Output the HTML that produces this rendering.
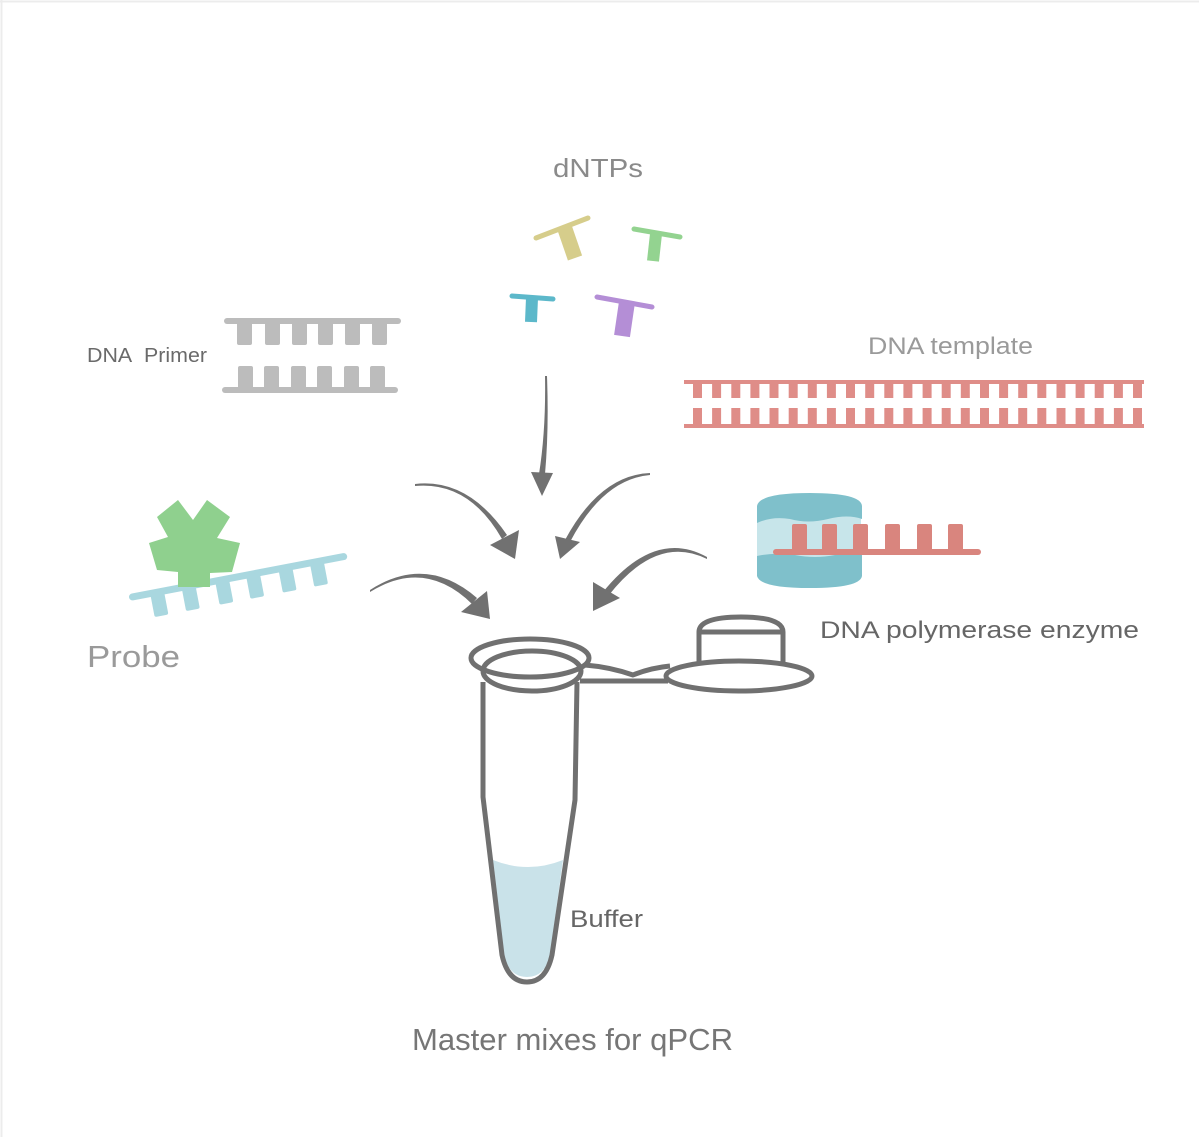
<!DOCTYPE html>
<html>
<head>
<meta charset="utf-8">
<style>
  html,body{margin:0;padding:0;background:#fff;}
  svg{display:block;}
  text{font-family:"Liberation Sans",Arial,sans-serif;}
</style>
</head>
<body>
<svg width="1199" height="1137" viewBox="0 0 1199 1137" xmlns="http://www.w3.org/2000/svg">
  <rect x="0" y="0" width="1199" height="1137" fill="#fff"/>
  <line x1="1.5" y1="0" x2="1.5" y2="1137" stroke="#ececec" stroke-width="2"/>
  <line x1="0" y1="1.5" x2="1199" y2="1.5" stroke="#ececec" stroke-width="2"/>

  <!-- dNTPs label -->
  <text x="553" y="177" font-size="26" fill="#8a8a8a" textLength="90" lengthAdjust="spacingAndGlyphs">dNTPs</text>

  <!-- dNTP T shapes -->
  <g stroke-linecap="round">
    <line x1="536" y1="238" x2="588" y2="218" stroke="#d6cd8b" stroke-width="5"/>
    <line x1="565" y1="229" x2="575" y2="258" stroke="#d6cd8b" stroke-width="15" stroke-linecap="butt"/>
    <line x1="634" y1="229" x2="680" y2="237" stroke="#93d390" stroke-width="5"/>
    <line x1="656" y1="234" x2="653" y2="261" stroke="#93d390" stroke-width="12" stroke-linecap="butt"/>
    <line x1="512" y1="296" x2="553" y2="299" stroke="#5cb8ca" stroke-width="5"/>
    <line x1="532" y1="298" x2="531" y2="322" stroke="#5cb8ca" stroke-width="12" stroke-linecap="butt"/>
    <line x1="597" y1="297" x2="652" y2="307" stroke="#b48ed6" stroke-width="5"/>
    <line x1="627" y1="302" x2="622" y2="336" stroke="#b48ed6" stroke-width="16" stroke-linecap="butt"/>
  </g>

  <!-- DNA Primer -->
  <text x="87" y="362" font-size="20" fill="#6a6a6a" textLength="120" lengthAdjust="spacingAndGlyphs">DNA&#160; Primer</text>
  <g fill="#bcbcbc">
    <rect x="224" y="318" width="177" height="6" rx="3"/>
    <rect x="237" y="320" width="15" height="25" rx="2"/>
    <rect x="265" y="320" width="15" height="25" rx="2"/>
    <rect x="292" y="320" width="15" height="25" rx="2"/>
    <rect x="318" y="320" width="15" height="25" rx="2"/>
    <rect x="345" y="320" width="15" height="25" rx="2"/>
    <rect x="372" y="320" width="15" height="25" rx="2"/>
    <rect x="222" y="387" width="176" height="6" rx="3"/>
    <rect x="238" y="366" width="15" height="24" rx="2"/>
    <rect x="264" y="366" width="15" height="24" rx="2"/>
    <rect x="291" y="366" width="15" height="24" rx="2"/>
    <rect x="317" y="366" width="15" height="24" rx="2"/>
    <rect x="344" y="366" width="15" height="24" rx="2"/>
    <rect x="370" y="366" width="15" height="24" rx="2"/>
  </g>

  <!-- DNA template -->
  <text x="868" y="354" font-size="24" fill="#9a9a9a" textLength="165" lengthAdjust="spacingAndGlyphs">DNA template</text>
  <g fill="#df8d88">
    <rect x="684" y="380" width="460" height="4"/>
    <rect x="684" y="424" width="460" height="4"/>
  </g>
  <g fill="#df8d88">
    <rect x="693" y="382" width="9" height="16"/><rect x="712.1" y="382" width="9" height="16"/><rect x="731.3" y="382" width="9" height="16"/><rect x="750.4" y="382" width="9" height="16"/><rect x="769.5" y="382" width="9" height="16"/><rect x="788.7" y="382" width="9" height="16"/><rect x="807.8" y="382" width="9" height="16"/><rect x="826.9" y="382" width="9" height="16"/><rect x="846" y="382" width="9" height="16"/><rect x="865.2" y="382" width="9" height="16"/><rect x="884.3" y="382" width="9" height="16"/><rect x="903.4" y="382" width="9" height="16"/><rect x="922.6" y="382" width="9" height="16"/><rect x="941.7" y="382" width="9" height="16"/><rect x="960.8" y="382" width="9" height="16"/><rect x="980" y="382" width="9" height="16"/><rect x="999.1" y="382" width="9" height="16"/><rect x="1018.2" y="382" width="9" height="16"/><rect x="1037.3" y="382" width="9" height="16"/><rect x="1056.5" y="382" width="9" height="16"/><rect x="1075.6" y="382" width="9" height="16"/><rect x="1094.7" y="382" width="9" height="16"/><rect x="1113.9" y="382" width="9" height="16"/><rect x="1133" y="382" width="9" height="16"/>
    <rect x="693" y="408" width="9" height="17"/><rect x="712.1" y="408" width="9" height="17"/><rect x="731.3" y="408" width="9" height="17"/><rect x="750.4" y="408" width="9" height="17"/><rect x="769.5" y="408" width="9" height="17"/><rect x="788.7" y="408" width="9" height="17"/><rect x="807.8" y="408" width="9" height="17"/><rect x="826.9" y="408" width="9" height="17"/><rect x="846" y="408" width="9" height="17"/><rect x="865.2" y="408" width="9" height="17"/><rect x="884.3" y="408" width="9" height="17"/><rect x="903.4" y="408" width="9" height="17"/><rect x="922.6" y="408" width="9" height="17"/><rect x="941.7" y="408" width="9" height="17"/><rect x="960.8" y="408" width="9" height="17"/><rect x="980" y="408" width="9" height="17"/><rect x="999.1" y="408" width="9" height="17"/><rect x="1018.2" y="408" width="9" height="17"/><rect x="1037.3" y="408" width="9" height="17"/><rect x="1056.5" y="408" width="9" height="17"/><rect x="1075.6" y="408" width="9" height="17"/><rect x="1094.7" y="408" width="9" height="17"/><rect x="1113.9" y="408" width="9" height="17"/><rect x="1133" y="408" width="9" height="17"/>
  </g>

  <!-- Probe -->
  <g transform="rotate(-10.8 132 597)" fill="#a9d7df">
    <rect x="129" y="593.5" width="222" height="7" rx="3.5"/>
    <rect x="150.5" y="597" width="14" height="24" rx="2"/>
    <rect x="182.5" y="597" width="14" height="24" rx="2"/>
    <rect x="216.6" y="597" width="14" height="24" rx="2"/>
    <rect x="248" y="597" width="14" height="24" rx="2"/>
    <rect x="281" y="597" width="14" height="24" rx="2"/>
    <rect x="313" y="597" width="14" height="24" rx="2"/>
  </g>
  <polygon fill="#8fd08e" points="193,520 207,500 230,517 217,538 240,543 232,572 210,573 210,587 178,587 178,572 157,570 149,543 168,537 157,517 178,500"/>
  <text x="87" y="667" font-size="31" fill="#9a9a9a" textLength="93" lengthAdjust="spacingAndGlyphs">Probe</text>

  <!-- DNA polymerase -->
  <rect x="757" y="516" width="104" height="44" fill="#c7e5ea"/>
  <path d="M757,523 L757,506 Q759,493 810,493 Q861,493 862,506 L862,519 Q848,514 828,519 Q808,524 790,519 Q772,516 757,523 Z" fill="#7fc0cb"/>
  <path d="M757,556 Q775,552 795,555 Q815,559 835,555 Q850,552 862,555 L862,576 Q860,588 810,588 Q760,588 757,576 Z" fill="#7fc0cb"/>
  <g fill="#d9857e">
    <rect x="773" y="549" width="208" height="6" rx="3"/>
    <rect x="792" y="524" width="15" height="29" rx="2"/>
    <rect x="822" y="524" width="15" height="29" rx="2"/>
    <rect x="853" y="524" width="15" height="29" rx="2"/>
    <rect x="885" y="524" width="15" height="29" rx="2"/>
    <rect x="917" y="524" width="15" height="29" rx="2"/>
    <rect x="948" y="524" width="15" height="29" rx="2"/>
  </g>
  <text x="820" y="638" font-size="24" fill="#666" textLength="319" lengthAdjust="spacingAndGlyphs">DNA polymerase enzyme</text>

  <!-- Arrows -->
  <g fill="#717171">
    <path d="M545,376 Q546,430 539,474 L545,474 Q549,430 547,376 Z"/>
    <polygon points="531,472 553,473 542,496"/>

    <path d="M415,486 Q469,481 502,539 L507,535 Q468,478 415,484 Z"/>
    <polygon points="490,545 519,530 515,559"/>

    <path d="M650,473 Q600,475 565,540 L570,542 Q603,479 650,475 Z"/>
    <polygon points="555,536 580,542 560,559"/>

    <path d="M370,592 Q425,558 472,604 L477,598 Q426,554 370,590 Z"/>
    <polygon points="461,612 487,591 490,619"/>

    <path d="M707,557 Q655,528 603,592 L609,595 Q657,534 707,559 Z"/>
    <polygon points="593,582 620,598 593,611"/>
  </g>

  <!-- Tube -->
  <path d="M493,860 Q528,874 563,860 L550,955 Q545,977 527,977 Q509,977 504,955 Z" fill="#c9e2e9"/>
  <g fill="none" stroke="#707070" stroke-width="5" stroke-linejoin="round">
    <path d="M483,682 L483,797 L502,955 Q508,982 527,982 Q546,982 552,955 L575,800 L577,682"/>
    <path d="M585,665 Q610,667 633,675 Q650,668 670,666"/>
    <path d="M580,681 L668,681"/>
    <ellipse cx="530" cy="658" rx="59" ry="19"/>
    <ellipse cx="532" cy="671" rx="49" ry="20"/>
    <path d="M699,662 L699,632 Q699,617 741,617 Q783,617 783,632 L783,662" fill="#fff"/>
    <path d="M699,632 L783,632"/>
    <ellipse cx="739" cy="676" rx="73" ry="15" fill="#fff"/>
  </g>

  <text x="570" y="927" font-size="24" fill="#666" textLength="73" lengthAdjust="spacingAndGlyphs">Buffer</text>
  <text x="412" y="1050" font-size="31" fill="#767676" textLength="321" lengthAdjust="spacingAndGlyphs">Master mixes for qPCR</text>
</svg>
</body>
</html>
